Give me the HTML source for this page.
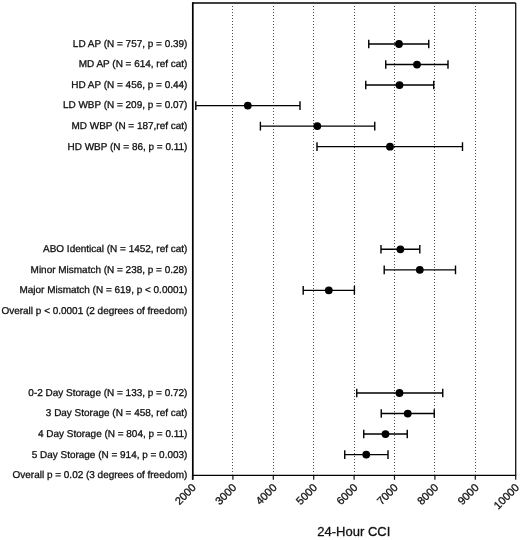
<!DOCTYPE html><html><head><meta charset="utf-8"><title>24-Hour CCI</title>
<style>html,body{margin:0;padding:0;background:#fff}svg{display:block}text{font-family:"Liberation Sans",sans-serif;fill:#111;stroke:#111;stroke-width:0.3px}</style></head><body>
<svg width="520" height="540" viewBox="0 0 520 540">
<rect width="520" height="540" fill="#fff"/>
<line x1="232.50" y1="6" x2="232.50" y2="474.4" stroke="#4a4a4a" stroke-width="1" stroke-dasharray="1 2"/>
<line x1="273.50" y1="6" x2="273.50" y2="474.4" stroke="#4a4a4a" stroke-width="1" stroke-dasharray="1 2"/>
<line x1="313.50" y1="6" x2="313.50" y2="474.4" stroke="#4a4a4a" stroke-width="1" stroke-dasharray="1 2"/>
<line x1="354.50" y1="6" x2="354.50" y2="474.4" stroke="#4a4a4a" stroke-width="1" stroke-dasharray="1 2"/>
<line x1="394.50" y1="6" x2="394.50" y2="474.4" stroke="#4a4a4a" stroke-width="1" stroke-dasharray="1 2"/>
<line x1="434.50" y1="6" x2="434.50" y2="474.4" stroke="#4a4a4a" stroke-width="1" stroke-dasharray="1 2"/>
<line x1="475.50" y1="6" x2="475.50" y2="474.4" stroke="#4a4a4a" stroke-width="1" stroke-dasharray="1 2"/>
<line x1="192.5" y1="2.95" x2="515.7" y2="2.95" stroke="#000" stroke-width="1.4"/>
<line x1="515.7" y1="2.95" x2="515.7" y2="475.4" stroke="#111" stroke-width="1.3"/>
<line x1="192.8" y1="2.25" x2="192.8" y2="479.80" stroke="#000" stroke-width="1.7"/>
<line x1="192.5" y1="475.4" x2="516.2" y2="475.4" stroke="#000" stroke-width="1.2"/>
<line x1="192.50" y1="475.4" x2="192.50" y2="479.79999999999995" stroke="#111" stroke-width="1.2"/>
<text font-size="11" text-anchor="end" transform="translate(196.70,488.25) rotate(-45)">2000</text>
<line x1="232.90" y1="475.4" x2="232.90" y2="479.79999999999995" stroke="#111" stroke-width="1.2"/>
<text font-size="11" text-anchor="end" transform="translate(237.10,488.25) rotate(-45)">3000</text>
<line x1="273.30" y1="475.4" x2="273.30" y2="479.79999999999995" stroke="#111" stroke-width="1.2"/>
<text font-size="11" text-anchor="end" transform="translate(277.50,488.25) rotate(-45)">4000</text>
<line x1="313.70" y1="475.4" x2="313.70" y2="479.79999999999995" stroke="#111" stroke-width="1.2"/>
<text font-size="11" text-anchor="end" transform="translate(317.90,488.25) rotate(-45)">5000</text>
<line x1="354.10" y1="475.4" x2="354.10" y2="479.79999999999995" stroke="#111" stroke-width="1.2"/>
<text font-size="11" text-anchor="end" transform="translate(358.30,488.25) rotate(-45)">6000</text>
<line x1="394.50" y1="475.4" x2="394.50" y2="479.79999999999995" stroke="#111" stroke-width="1.2"/>
<text font-size="11" text-anchor="end" transform="translate(398.70,488.25) rotate(-45)">7000</text>
<line x1="434.90" y1="475.4" x2="434.90" y2="479.79999999999995" stroke="#111" stroke-width="1.2"/>
<text font-size="11" text-anchor="end" transform="translate(439.10,488.25) rotate(-45)">8000</text>
<line x1="475.30" y1="475.4" x2="475.30" y2="479.79999999999995" stroke="#111" stroke-width="1.2"/>
<text font-size="11" text-anchor="end" transform="translate(479.50,488.25) rotate(-45)">9000</text>
<line x1="515.70" y1="475.4" x2="515.70" y2="479.79999999999995" stroke="#111" stroke-width="1.2"/>
<text font-size="11" text-anchor="end" transform="translate(519.90,488.25) rotate(-45)">10000</text>
<path d="M368.75 44.00H428.75M368.75 39.70V48.30M428.75 39.70V48.30" stroke="#000" stroke-width="1.4" fill="none"/>
<circle cx="399.00" cy="44.00" r="3.9" fill="#000"/>
<path d="M385.75 64.53H448.00M385.75 60.23V68.83M448.00 60.23V68.83" stroke="#000" stroke-width="1.4" fill="none"/>
<circle cx="417.00" cy="64.53" r="3.9" fill="#000"/>
<path d="M365.75 85.06H433.75M365.75 80.76V89.36M433.75 80.76V89.36" stroke="#000" stroke-width="1.4" fill="none"/>
<circle cx="399.50" cy="85.06" r="3.9" fill="#000"/>
<path d="M195.80 105.59H300.00M195.80 101.29V109.89M300.00 101.29V109.89" stroke="#000" stroke-width="1.4" fill="none"/>
<circle cx="247.80" cy="105.59" r="3.9" fill="#000"/>
<path d="M260.40 126.12H374.75M260.40 121.82V130.42M374.75 121.82V130.42" stroke="#000" stroke-width="1.4" fill="none"/>
<circle cx="317.30" cy="126.12" r="3.9" fill="#000"/>
<path d="M317.00 146.65H462.50M317.00 142.35V150.95M462.50 142.35V150.95" stroke="#000" stroke-width="1.4" fill="none"/>
<circle cx="390.00" cy="146.65" r="3.9" fill="#000"/>
<path d="M381.00 249.30H419.80M381.00 245.00V253.60M419.80 245.00V253.60" stroke="#000" stroke-width="1.4" fill="none"/>
<circle cx="400.40" cy="249.30" r="3.9" fill="#000"/>
<path d="M384.20 269.83H455.50M384.20 265.53V274.13M455.50 265.53V274.13" stroke="#000" stroke-width="1.4" fill="none"/>
<circle cx="419.80" cy="269.83" r="3.9" fill="#000"/>
<path d="M303.20 290.36H354.40M303.20 286.06V294.66M354.40 286.06V294.66" stroke="#000" stroke-width="1.4" fill="none"/>
<circle cx="328.80" cy="290.36" r="3.9" fill="#000"/>
<path d="M356.75 393.01H442.75M356.75 388.71V397.31M442.75 388.71V397.31" stroke="#000" stroke-width="1.4" fill="none"/>
<circle cx="399.50" cy="393.01" r="3.9" fill="#000"/>
<path d="M381.25 413.54H434.25M381.25 409.24V417.84M434.25 409.24V417.84" stroke="#000" stroke-width="1.4" fill="none"/>
<circle cx="407.75" cy="413.54" r="3.9" fill="#000"/>
<path d="M363.75 434.07H407.25M363.75 429.77V438.37M407.25 429.77V438.37" stroke="#000" stroke-width="1.4" fill="none"/>
<circle cx="385.50" cy="434.07" r="3.9" fill="#000"/>
<path d="M344.75 454.60H388.00M344.75 450.30V458.90M388.00 450.30V458.90" stroke="#000" stroke-width="1.4" fill="none"/>
<circle cx="366.25" cy="454.60" r="3.9" fill="#000"/>
<text x="187.4" y="46.90" font-size="9.97" text-rendering="geometricPrecision" text-anchor="end">LD AP (N = 757, p = 0.39)</text>
<text x="187.4" y="67.43" font-size="9.97" text-rendering="geometricPrecision" text-anchor="end">MD AP (N = 614, ref cat)</text>
<text x="187.4" y="87.96" font-size="9.97" text-rendering="geometricPrecision" text-anchor="end">HD AP (N = 456, p = 0.44)</text>
<text x="187.4" y="108.49" font-size="9.97" text-rendering="geometricPrecision" text-anchor="end">LD WBP (N = 209, p = 0.07)</text>
<text x="187.4" y="129.02" font-size="9.97" text-rendering="geometricPrecision" text-anchor="end">MD WBP (N = 187,ref cat)</text>
<text x="187.4" y="149.55" font-size="9.97" text-rendering="geometricPrecision" text-anchor="end">HD WBP (N = 86, p = 0.11)</text>
<text x="187.4" y="252.20" font-size="9.97" text-rendering="geometricPrecision" text-anchor="end">ABO Identical (N = 1452, ref cat)</text>
<text x="187.4" y="272.73" font-size="9.97" text-rendering="geometricPrecision" text-anchor="end">Minor Mismatch (N = 238, p = 0.28)</text>
<text x="187.4" y="293.26" font-size="9.97" text-rendering="geometricPrecision" text-anchor="end">Major Mismatch (N = 619, p &lt; 0.0001)</text>
<text x="187.4" y="313.79" font-size="9.97" text-rendering="geometricPrecision" text-anchor="end">Overall p &lt; 0.0001 (2 degrees of freedom)</text>
<text x="187.4" y="395.91" font-size="9.97" text-rendering="geometricPrecision" text-anchor="end">0-2 Day Storage (N = 133, p = 0.72)</text>
<text x="187.4" y="416.44" font-size="9.97" text-rendering="geometricPrecision" text-anchor="end">3 Day Storage (N = 458, ref cat)</text>
<text x="187.4" y="436.97" font-size="9.97" text-rendering="geometricPrecision" text-anchor="end">4 Day Storage (N = 804, p = 0.11)</text>
<text x="187.4" y="457.50" font-size="9.97" text-rendering="geometricPrecision" text-anchor="end">5 Day Storage (N = 914, p = 0.003)</text>
<text x="187.4" y="478.03" font-size="9.97" text-rendering="geometricPrecision" text-anchor="end">Overall p = 0.02 (3 degrees of freedom)</text>
<text x="353.8" y="536.1" font-size="13" text-anchor="middle" stroke-width="0.2">24-Hour CCI</text>
</svg></body></html>
